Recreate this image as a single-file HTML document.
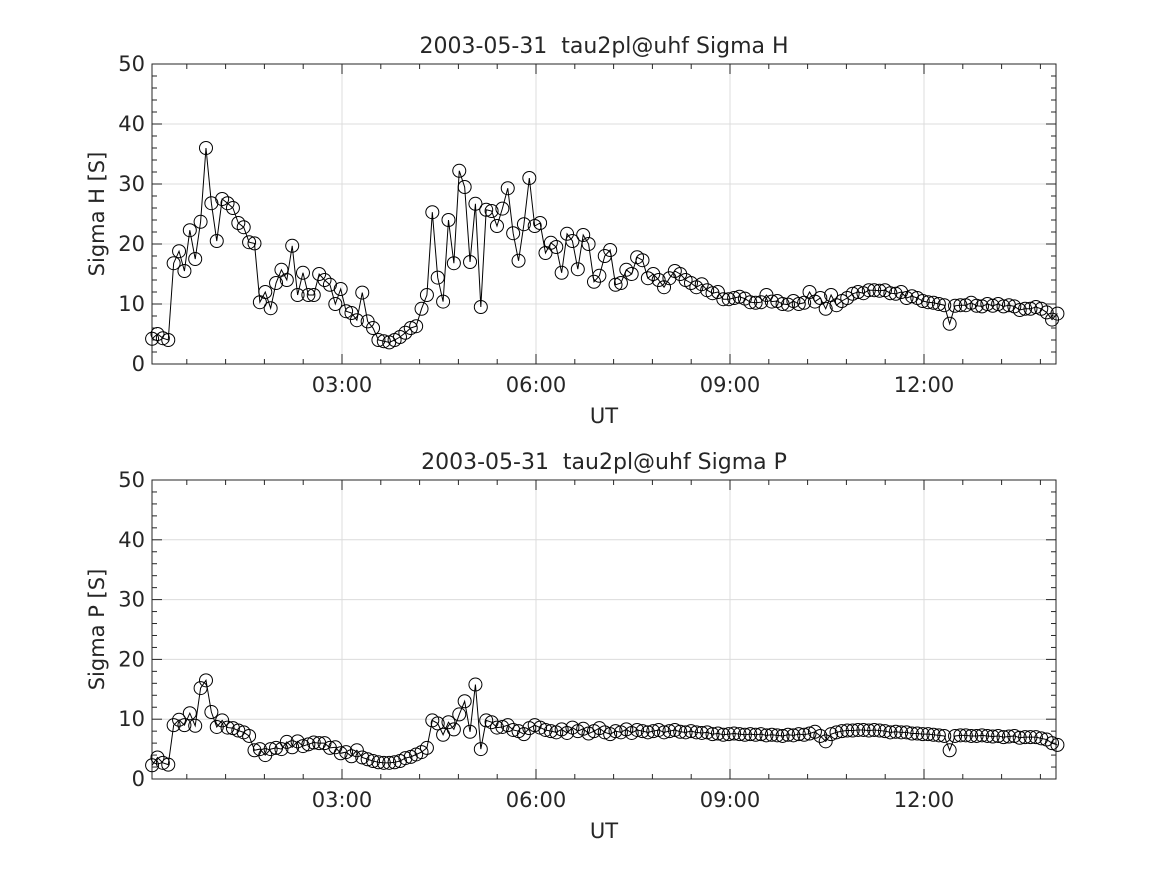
<!DOCTYPE html>
<html><head><meta charset="utf-8"><style>
body{margin:0;background:#fff}
svg text{font-family:"DejaVu Sans","Liberation Sans",sans-serif;fill:#262626}
</style></head><body>
<svg id="fig" width="1167" height="875" xmlns="http://www.w3.org/2000/svg"></svg>
<script>
const tickHours=[3,6,9,12];
const tickLabels=["03:00","06:00","09:00","12:00"];
const yTicks=[0,10,20,30,40,50];
const startMin=3.8, stepMin=5;
const sigmaH=[4.2,5.0,4.3,4.0,16.8,18.8,15.5,22.3,17.5,23.7,
36.0,26.8,20.5,27.5,26.8,26.0,23.5,22.8,20.3,20.1,
10.3,12.0,9.3,13.5,15.7,14.0,19.7,11.5,15.2,11.5,
11.5,15.0,14.0,13.2,10.0,12.5,8.8,8.5,7.3,11.9,
7.1,6.0,4.0,3.8,3.6,4.0,4.5,5.2,6.0,6.3,
9.2,11.5,25.3,14.4,10.4,24.0,16.8,32.2,29.5,17.0,
26.7,9.5,25.7,25.5,23.0,25.9,29.3,21.8,17.2,23.3,
31.0,23.0,23.5,18.5,20.2,19.5,15.2,21.7,20.5,15.8,
21.5,20.0,13.7,14.7,18.0,19.0,13.2,13.5,15.7,15.0,
17.8,17.3,14.3,15.0,14.0,12.8,14.3,15.5,15.0,14.0,
13.5,12.8,13.3,12.3,11.8,12.0,10.8,10.8,11.0,11.2,
10.9,10.3,10.2,10.3,11.5,10.4,10.5,10.0,9.9,10.5,
10.0,10.2,12.0,10.4,11.0,9.2,11.5,9.8,10.5,11.0,
11.7,12.0,11.8,12.3,12.3,12.2,12.3,11.8,11.7,12.0,
11.0,11.3,11.0,10.5,10.3,10.2,10.0,9.8,6.7,9.7,
9.8,9.8,10.2,9.7,9.6,10.0,9.7,10.0,9.6,9.8,
9.6,9.0,9.2,9.2,9.5,9.2,8.6,7.4,8.4];
const sigmaP=[2.3,3.6,2.7,2.4,9.0,9.9,9.0,11.0,8.9,15.2,
16.5,11.2,8.7,9.8,8.6,8.5,8.1,7.8,7.2,4.8,
5.0,4.0,5.0,5.2,5.0,6.2,5.3,6.3,5.5,5.8,
6.1,6.0,6.0,5.2,5.3,4.3,4.5,3.8,4.8,3.6,
3.3,3.0,2.8,2.7,2.7,2.8,3.0,3.5,3.7,4.1,
4.5,5.2,9.8,9.3,7.4,9.5,8.3,10.8,13.0,7.9,
15.8,5.0,9.8,9.5,8.6,8.7,9.0,8.2,8.0,7.5,
8.5,9.0,8.6,8.2,8.0,7.8,8.3,7.7,8.6,8.0,
8.4,7.6,8.0,8.5,7.8,7.5,8.0,7.8,8.3,7.7,
8.2,8.0,7.8,8.0,8.2,7.8,8.0,8.2,7.9,7.8,
8.0,7.8,7.7,7.8,7.5,7.6,7.4,7.5,7.6,7.5,
7.4,7.5,7.4,7.5,7.3,7.4,7.3,7.2,7.4,7.3,
7.5,7.4,7.6,7.9,7.2,6.3,7.5,7.8,8.0,8.1,
8.1,8.2,8.2,8.1,8.2,8.1,8.0,7.8,7.9,7.8,
7.8,7.6,7.6,7.5,7.5,7.4,7.3,7.2,4.8,7.2,
7.3,7.3,7.2,7.2,7.3,7.2,7.1,7.2,7.0,7.1,
7.2,6.9,7.0,7.0,7.0,6.8,6.6,6.0,5.7];

const NS="http://www.w3.org/2000/svg";
const svg=document.getElementById('fig');
function mk(tag,attrs,parent){const e=document.createElementNS(NS,tag);for(const k in attrs)e.setAttribute(k,attrs[k]);(parent||svg).appendChild(e);return e;}
const L=152,R=1056;
function xs(h){return 342+(h-3)*194/3;}

function panel(top,bot,values,title,ylabel,key){
  const g=mk('g',{});
  
  
  const ys=v=>bot-(v/50)*(bot-top);
  tickHours.forEach(h=>{const l=mk('line',{x1:xs(h),x2:xs(h),y1:top,y2:bot,stroke:'#dcdcdc','stroke-width':1},g);
    });
  yTicks.forEach(v=>{const l=mk('line',{x1:L,x2:R,y1:ys(v),y2:ys(v),stroke:'#dcdcdc','stroke-width':1},g);
    });
  const fr=mk('rect',{x:L,y:top,width:R-L,height:bot-top,fill:'none',stroke:'#262626','stroke-width':1},g);
  
  for(let m=0;m<=14*60;m+=36){const h=m/60;const x=xs(h);if(x<L||x>R)continue;
    const major=(m%180===0);const len=major?10:5;
    mk('line',{x1:x,x2:x,y1:bot,y2:bot-len,stroke:'#262626'},g);
    mk('line',{x1:x,x2:x,y1:top,y2:top+len,stroke:'#262626'},g);}
  for(let v=0;v<=50;v+=2){const y=ys(v);const len=(v%10===0)?10:5;
    mk('line',{x1:L,x2:L+len,y1:y,y2:y,stroke:'#262626'},g);
    mk('line',{x1:R,x2:R-len,y1:y,y2:y,stroke:'#262626'},g);}
  tickHours.forEach((h,i)=>{const t=mk('text',{x:xs(h),y:bot+28,'text-anchor':'middle','font-size':21},g);t.textContent=tickLabels[i];
    });
  yTicks.forEach(v=>{const t=mk('text',{x:L-7,y:ys(v)+7,'text-anchor':'end','font-size':21},g);t.textContent=v;
    });
  const xt=mk('text',{x:604,y:bot+59,'text-anchor':'middle','font-size':21},g);xt.textContent='UT';
  
  const yt=mk('text',{x:0,y:0,'text-anchor':'middle','font-size':21,transform:`translate(104,${(top+bot)/2}) rotate(-90)`},g);yt.textContent=ylabel;
  
  const tt=mk('text',{x:604,y:top-11,'text-anchor':'middle','font-size':22,fill:'#000'},g);tt.textContent=title;
  
  const pts=values.map((v,i)=>[xs((startMin+i*stepMin)/60),ys(v)]);
  const pl=mk('polyline',{points:pts.map(p=>p.join(',')).join(' '),fill:'none',stroke:'#000','stroke-width':1},g);
  
  pts.forEach(p=>{const c=mk('circle',{cx:p[0],cy:p[1],r:6.5,fill:'none',stroke:'#000','stroke-width':1},g);
    });
}
panel(64,364,sigmaH,'2003-05-31\u00a0\u00a0tau2pl@uhf Sigma H','Sigma H [S]','sigma-h');
panel(480,779,sigmaP,'2003-05-31\u00a0\u00a0tau2pl@uhf Sigma P','Sigma P [S]','sigma-p');
</script>
</body></html>
